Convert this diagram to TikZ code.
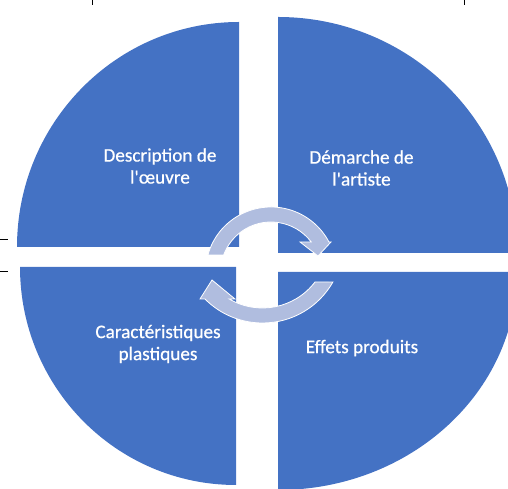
\documentclass[tikz,border=0pt]{standalone}
\usepackage{fontspec}
\newfontfamily\labelfont{Carlito}[FakeBold=0.6]
\usetikzlibrary{calc}
\definecolor{quadblue}{HTML}{4472C4}
\definecolor{arrowlight}{RGB}{176,189,223}
\tikzset{
  quad/.style={fill=quadblue, draw=none},
  cyclearrow/.style={fill=arrowlight, draw=white, line width=0.8pt, line join=miter},
  lbl/.style={text=white, align=center, inner sep=0pt, font=\labelfont\fontsize{19.2}{22}\selectfont},
  tick/.style={draw=black, line width=0.8pt}
}
\begin{document}
\begin{tikzpicture}[x=1pt,y=1pt]
\useasboundingbox (0,0) rectangle (508,489);
\begin{scope}
\clip (0,0) rectangle (508,489);
% quadrants
\path[quad] (239,242) -- (17,242) arc[start angle=180,end angle=90,x radius=222,y radius=225] -- cycle;
\path[quad] (278,236) -- (278,472) arc[start angle=90,end angle=0,x radius=239,y radius=236] -- cycle;
\path[quad] (278,217) -- (517,217) arc[start angle=0,end angle=-90,x radius=239,y radius=218] -- cycle;
\path[quad] (236,222) -- (236,4) arc[start angle=270,end angle=180,x radius=216,y radius=218] -- cycle;
% circular arrows
\coordinate (ctop) at (271,216.5);
\coordinate (cbot) at (262.5,247);
\path[cyclearrow] ($(ctop)+(164.5:65.5)$) arc[start angle=164.5,end angle=27.75,radius=65.5]
  -- (331,247) -- (318,233) -- (300,247)
  -- ($(ctop)+(37.15:50.5)$) arc[start angle=37.15,end angle=159.7,radius=50.5] -- cycle;
\path[cyclearrow] ($(cbot)+(-29.6:81)$) arc[start angle=-29.6,end angle=-135.3,radius=81]
  -- (200,190) -- (212,209) -- (235,190)
  -- ($(cbot)+(-120.3:66)$) arc[start angle=-120.3,end angle=-37.3,radius=66] -- cycle;
\end{scope}
% labels
\node[lbl] (desc) at (160,323) {Description de\\l'œuvre};
\node[lbl] (dem) at (361.5,321) {Démarche de\\l'artiste};
\node[lbl] (car) at (158,145) {Caractéristiques\\plastiques};
\node[lbl] (eff) at (362,141) {Effets produits};
% crop ticks
\draw[tick] (92,489) -- (92,484);
\draw[tick] (464,489) -- (464,484);
\draw[tick] (0,250) -- (8,250);
\draw[tick] (0,218) -- (8,218);
\end{tikzpicture}
\end{document}
